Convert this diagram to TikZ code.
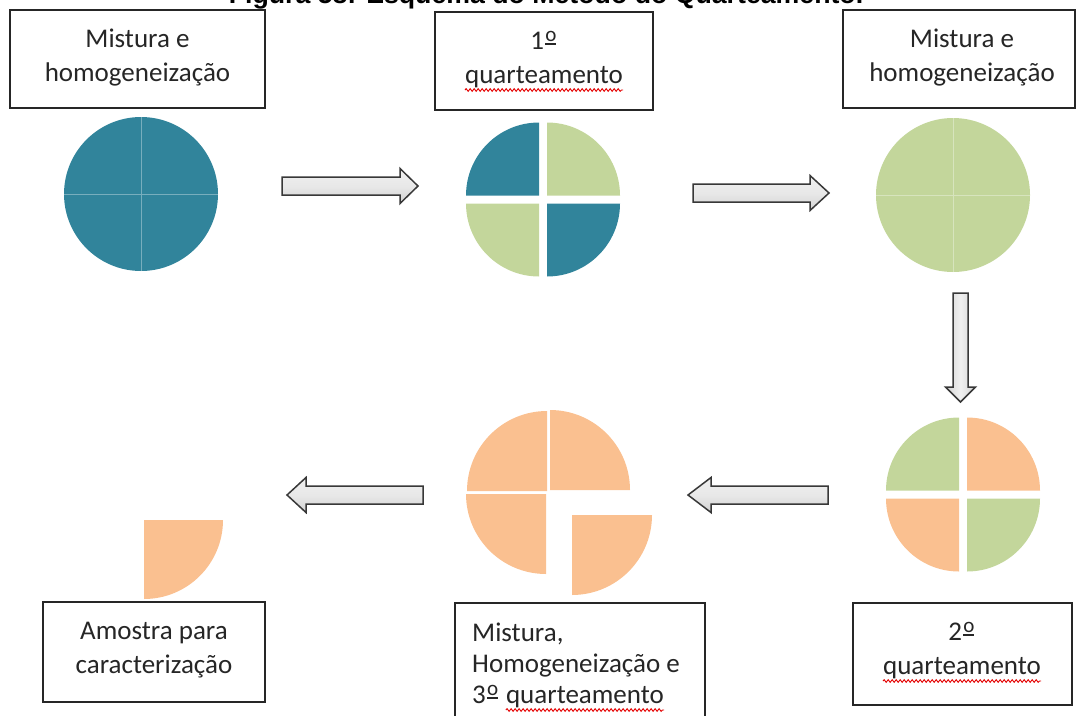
\documentclass[tikz,border=0pt]{standalone}
\usepackage{graphicx}
\usepackage{fontspec}
\setmainfont{Carlito}
\newfontfamily\titlefont{Liberation Sans}
\usetikzlibrary{decorations.pathmorphing}
\definecolor{cteal}{RGB}{49,132,155}
\definecolor{cgreen}{RGB}{195,214,155}
\definecolor{corange}{RGB}{250,192,144}
\newcommand{\quart}[4]{\fill[#4] #1 -- ++(#2:#3) arc[start angle=#2, end angle=#2+90, radius=#3] -- cycle;}
\newcommand{\ordm}{\hbox{\kern0.05em\rlap{\raisebox{0.27em}{\scalebox{0.78}{o}}}\raisebox{0.15em}{\rule{0.41em}{0.06em}}\kern0.05em}}
\begin{document}
\begin{tikzpicture}[x=1pt,y=1pt,
  box/.style={draw=black!85, line width=1.3pt, fill=white, inner sep=0pt},
  txt/.style={font=\fontsize{27}{33}\selectfont, anchor=base, inner sep=0pt, text=black!85},
  squig/.style={draw=red!90!black, line width=0.9pt, decorate, decoration={snake, amplitude=1.3pt, segment length=4pt}},
  blockarrow/.style={draw=black!78, line width=1.5pt, top color=gray!12, bottom color=gray!35, middle color=gray!18, line join=miter},
  vblockarrow/.style={draw=black!78, line width=1.5pt, left color=gray!35, right color=gray!35, middle color=gray!12, line join=miter},
  crossline/.style={draw=white, opacity=0.35, line width=1pt},
]
\useasboundingbox (0,0) rectangle (1078,-715);

% title (partly cut off at the top, as in the reference)
\node[font=\titlefont\bfseries\fontsize{26.7}{30}\selectfont, anchor=base, inner sep=0pt] (title) at (546,-3) {Figura 58: Esquema do Método do Quarteamento.};

% boxes
\node[box, minimum width=255pt, minimum height=98pt] (b1) at (137.5,-59) {};
\node[box, minimum width=218pt, minimum height=98pt] (b2) at (544,-61) {};
\node[box, minimum width=232pt, minimum height=98pt] (b3) at (959,-59) {};
\node[box, minimum width=219pt, minimum height=102pt] (b4) at (962.5,-654) {};
\node[box, minimum width=250pt, minimum height=122pt] (b5) at (580,-664) {};
\node[box, minimum width=222pt, minimum height=100pt] (b6) at (154,-652) {};

% texts
\node[txt] (t1a) at (137.5,-47) {Mistura e};
\node[txt] (t1b) at (137.5,-81) {homogeneização};
\node[txt] (t2a) at (544,-49) {1\ordm};
\node[txt] (t2b) at (544,-83) {quarteamento};
\node[txt] (t3a) at (962,-47) {Mistura e};
\node[txt] (t3b) at (962,-81) {homogeneização};
\node[txt] (t4a) at (962,-640) {2\ordm};
\node[txt] (t4b) at (962,-674) {quarteamento};
\node[txt, anchor=base west] (t5a) at (472,-641) {Mistura,};
\node[txt, anchor=base west] (t5b) at (472,-672) {Homogeneização e};
\node[txt, anchor=base west] (t5c) at (472,-703) {3\ordm};
\node[txt, anchor=base west] (t5d) at ([xshift=6pt]t5c.base east) {quarteamento};
\node[txt] (t6a) at (154,-639) {Amostra para};
\node[txt] (t6b) at (154,-673) {caracterização};

\draw[squig] ([yshift=-7pt]t2b.base west) -- ([yshift=-7pt]t2b.base east);
\draw[squig] ([yshift=-7pt]t4b.base west) -- ([yshift=-7pt]t4b.base east);
\draw[squig] ([yshift=-7pt]t5d.base west) -- ([yshift=-7pt]t5d.base east);

% circle 1: whole teal
\coordinate (c1) at (141,-194);
\fill[cteal] (c1) circle[radius=77];
\draw[crossline] ([yshift=77pt]c1) -- ([yshift=-77pt]c1) ([xshift=-77pt]c1) -- ([xshift=77pt]c1);

% circle 2: first quartering
\coordinate (c2) at (543,-199.5);
\quart{([shift={(4,4)}]c2)}{0}{73}{cgreen}
\quart{([shift={(-4,4)}]c2)}{90}{73}{cteal}
\quart{([shift={(-4,-4)}]c2)}{180}{73}{cgreen}
\quart{([shift={(4,-4)}]c2)}{270}{73}{cteal}

% circle 3: whole green
\coordinate (c3) at (953,-195);
\fill[cgreen] (c3) circle[radius=77];
\draw[crossline] ([yshift=77pt]c3) -- ([yshift=-77pt]c3) ([xshift=-77pt]c3) -- ([xshift=77pt]c3);

% circle 4: second quartering
\coordinate (c4) at (963,-494.5);
\quart{([shift={(4,4)}]c4)}{0}{73}{corange}
\quart{([shift={(-4,4)}]c4)}{90}{73}{cgreen}
\quart{([shift={(-4,-4)}]c4)}{180}{73}{corange}
\quart{([shift={(4,-4)}]c4)}{270}{73}{cgreen}

% circle 5: third quartering, one quarter moved out
\quart{(550,-490)}{0}{80}{corange}
\quart{(547,-491)}{90}{80}{corange}
\quart{(546,-494)}{180}{80}{corange}
\quart{(572,-515)}{270}{80}{corange}

% final sample
\quart{(144,-520)}{270}{79}{corange}

% block arrows
\draw[blockarrow] (282,-177) -- (400,-177) -- (400,-168.5) -- (418,-186) -- (400,-203.5) -- (400,-195) -- (282,-195) -- cycle;
\draw[blockarrow] (693,-184) -- (810,-184) -- (810,-175.5) -- (829,-193) -- (810,-210.5) -- (810,-202) -- (693,-202) -- cycle;
\draw[vblockarrow] (953,-293) -- (953,-387) -- (945.5,-387) -- (960.5,-402) -- (975.5,-387) -- (968,-387) -- (968,-293) -- cycle;
\draw[blockarrow] (828,-486) -- (711,-486) -- (711,-477.5) -- (688,-495) -- (711,-512.5) -- (711,-504) -- (828,-504) -- cycle;
\draw[blockarrow] (423,-486) -- (306,-486) -- (306,-477.5) -- (287,-495) -- (306,-512.5) -- (306,-504) -- (423,-504) -- cycle;
\end{tikzpicture}
\end{document}
